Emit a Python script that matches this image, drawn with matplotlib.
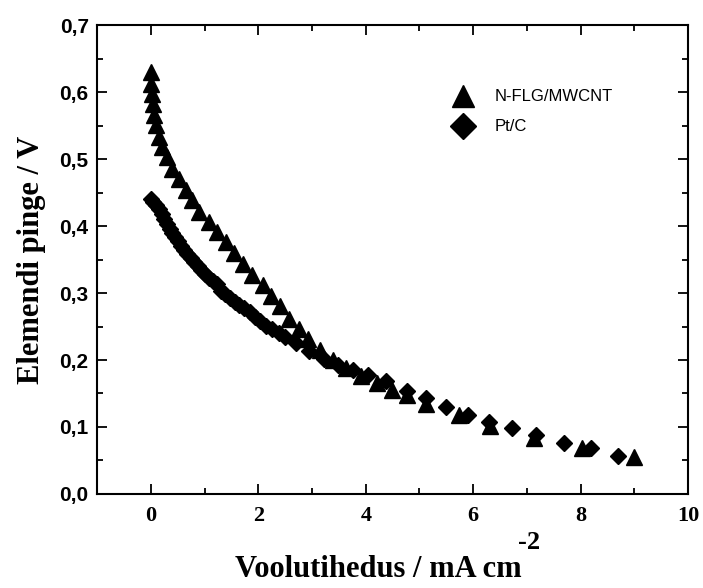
"""Cell polarization curves: N-FLG/MWCNT vs Pt/C."""

import matplotlib
matplotlib.use("Agg")
import matplotlib.pyplot as plt
from matplotlib.ticker import MultipleLocator, FuncFormatter

# N-FLG/MWCNT (triangles)
nflg_j = [0.00, 0.01, 0.03, 0.04, 0.06, 0.10, 0.15, 0.21, 0.30, 0.40, 0.52,
          0.65, 0.77, 0.90, 1.08, 1.24, 1.40, 1.55, 1.71, 1.89, 2.08, 2.24,
          2.41, 2.58, 2.75, 2.93, 3.14, 3.39, 3.64, 3.92, 4.20, 4.48, 4.76,
          5.13, 5.73, 6.32, 7.13, 8.03, 8.99]
nflg_v = [0.630, 0.613, 0.598, 0.583, 0.566, 0.551, 0.533, 0.518, 0.503,
          0.486, 0.471, 0.454, 0.439, 0.421, 0.406, 0.391, 0.376, 0.360,
          0.344, 0.327, 0.312, 0.295, 0.280, 0.262, 0.247, 0.232, 0.215,
          0.200, 0.188, 0.176, 0.166, 0.155, 0.148, 0.135, 0.118, 0.101,
          0.084, 0.069, 0.055]

# Pt/C (diamonds)
ptc_j = [0.00, 0.05, 0.10, 0.15, 0.20, 0.25, 0.30, 0.35, 0.40, 0.45, 0.50,
         0.56, 0.62, 0.68, 0.74, 0.80, 0.87, 0.94, 1.01, 1.08, 1.15, 1.23,
         1.31, 1.39, 1.47, 1.56, 1.65, 1.74, 1.84, 1.94, 2.04, 2.15, 2.26,
         2.38, 2.50, 2.70, 2.95, 3.23, 3.48, 3.76, 4.05, 4.38, 4.76, 5.13,
         5.50, 5.91, 6.29, 6.72, 7.16, 7.69, 8.19, 8.69]
ptc_v = [0.440, 0.436, 0.431, 0.425, 0.418, 0.410, 0.403, 0.396, 0.390,
         0.384, 0.378, 0.371, 0.364, 0.358, 0.352, 0.346, 0.340, 0.334,
         0.328, 0.323, 0.318, 0.313, 0.303, 0.298, 0.293, 0.287, 0.282,
         0.277, 0.271, 0.265, 0.258, 0.251, 0.246, 0.240, 0.234, 0.225,
         0.213, 0.202, 0.193, 0.185, 0.177, 0.168, 0.153, 0.143, 0.130,
         0.118, 0.108, 0.098, 0.088, 0.076, 0.068, 0.056]

fig = plt.figure(figsize=(7.03, 5.88), dpi=100)
ax = fig.add_axes([0.138, 0.160, 0.841, 0.797])

ax.plot(nflg_j, nflg_v, linestyle='none', marker='^', markersize=11,
        color='black', label='N-FLG/MWCNT')
ax.plot(ptc_j, ptc_v, linestyle='none', marker='D', markersize=8.5,
        color='black', label='Pt/C')

ax.set_xlim(-1, 10)
ax.set_ylim(0, 0.7)

ax.xaxis.set_major_locator(MultipleLocator(2))
ax.xaxis.set_minor_locator(MultipleLocator(1))
ax.yaxis.set_major_locator(MultipleLocator(0.1))
ax.yaxis.set_minor_locator(MultipleLocator(0.05))
ax.yaxis.set_major_formatter(FuncFormatter(lambda v, p: f"{v:.1f}".replace('.', ',')))

ax.tick_params(which='both', direction='in', top=True, right=True, width=1.3)
ax.tick_params(which='major', length=7)
ax.tick_params(which='minor', length=4)
ax.tick_params(axis='y', labelsize=15, pad=6)
ax.tick_params(axis='x', labelsize=16, pad=9)
for lbl in ax.get_yticklabels():
    lbl.set_fontfamily('Liberation Sans')
    lbl.set_fontweight('bold')
for lbl in ax.get_xticklabels():
    lbl.set_fontfamily('Liberation Serif')
    lbl.set_fontweight('bold')
for sp in ax.spines.values():
    sp.set_linewidth(1.5)

ax.set_ylabel('Elemendi pinge / V', fontsize=22,
              fontfamily='Liberation Serif', fontweight='bold', labelpad=10)

# x label drawn by hand so the "-2" superscript can sit right after "cm"
xlab = fig.text(0.334, 0.018, 'Voolutihedus / mA cm', fontsize=22,
                fontfamily='Liberation Serif', fontweight='bold',
                ha='left', va='baseline')
fig.canvas.draw()
bb = xlab.get_window_extent(renderer=fig.canvas.get_renderer())
fig.text((bb.x1 - 3) / fig.bbox.width, 0.066, '-2', fontsize=19,
         fontfamily='Liberation Serif', fontweight='bold',
         ha='left', va='baseline')

leg = ax.legend(loc='upper left', bbox_to_anchor=(0.565, 0.895), frameon=False,
                markerscale=1.5, handletextpad=0.9, labelspacing=0.9,
                prop={'family': 'Liberation Sans', 'size': 12})

plt.savefig('out.png', dpi=100)
plt.close()
